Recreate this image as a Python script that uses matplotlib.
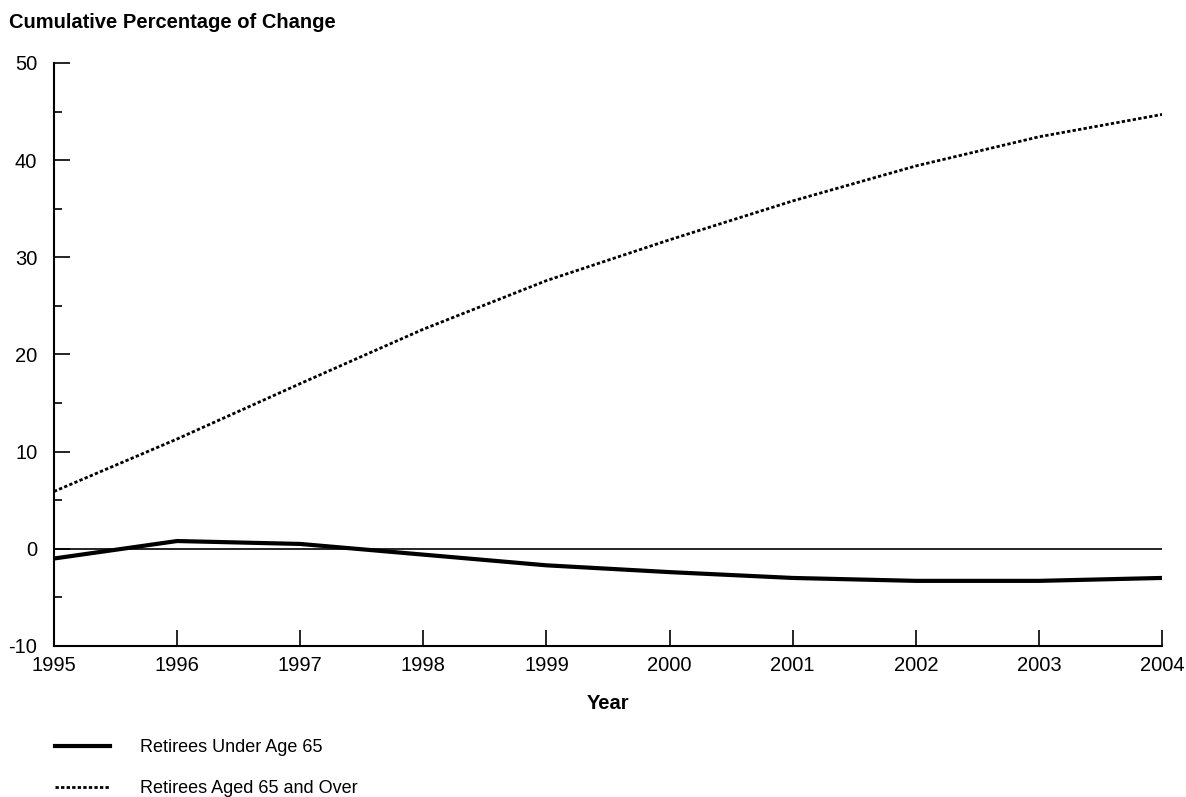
import matplotlib.pyplot as plt
from matplotlib.ticker import MultipleLocator

plt.rcParams['font.family'] = ['Liberation Sans', 'DejaVu Sans']
plt.rcParams['axes.unicode_minus'] = False

years = [1995, 1996, 1997, 1998, 1999, 2000, 2001, 2002, 2003, 2004]
under_65 = [-1.0, 0.8, 0.5, -0.6, -1.7, -2.4, -3.0, -3.3, -3.3, -3.0]
aged_65_over = [5.9, 11.3, 17.0, 22.6, 27.6, 31.8, 35.8, 39.4, 42.4, 44.7]

fig = plt.figure(figsize=(11.86, 7.97), dpi=100)
ax = fig.add_axes([0.0455, 0.1895, 0.9343, 0.7315])

ax.plot(years, under_65, color='black', lw=3, label='Retirees Under Age 65')
ax.plot(years, aged_65_over, color='black', lw=2, linestyle=(0, (1.2, 0.8)),
        label='Retirees Aged 65 and Over')
ax.axhline(0, color='black', lw=1.2)

ax.set_xlim(1995, 2004)
ax.set_ylim(-10, 50)
ax.set_xticks(years)
ax.yaxis.set_major_locator(MultipleLocator(10))
ax.yaxis.set_minor_locator(MultipleLocator(5))
ax.tick_params(axis='both', direction='in', labelsize=14.5, width=1.2, length=11.5)
ax.tick_params(axis='x', pad=7)
ax.tick_params(axis='y', pad=12)
ax.tick_params(axis='y', which='minor', direction='in', length=6, width=1.2)
ax.spines['top'].set_visible(False)
ax.spines['right'].set_visible(False)
ax.spines['left'].set_linewidth(1.5)
ax.spines['bottom'].set_linewidth(1.5)

ax.set_xlabel('Year', fontsize=14.5, fontweight='bold', labelpad=14)
fig.text(0.008, 0.972, 'Cumulative Percentage of Change', fontsize=14.5,
         fontweight='bold', ha='left', va='center')

fig.legend(loc='upper left', bbox_to_anchor=(0.033, 0.093), frameon=False,
           fontsize=13, handlelength=3.0, handletextpad=1.7, labelspacing=1.33)

fig.savefig('out.png', dpi=100)
